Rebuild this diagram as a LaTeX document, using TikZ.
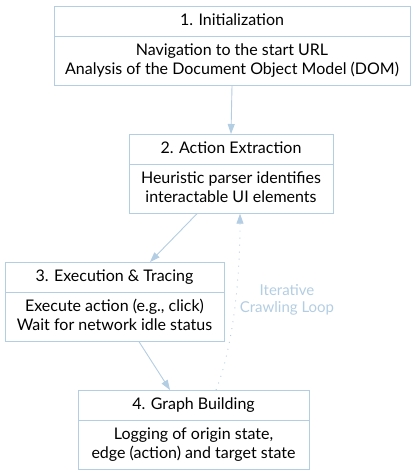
\documentclass[tikz,border=0pt]{standalone}
\usepackage{fontspec}
\setmainfont{Lato}
\usetikzlibrary{shapes.multipart,arrows.meta}
\definecolor{loopblue}{RGB}{179,205,227}

\begin{document}
\begin{tikzpicture}[x=1pt,y=-1pt,
    stage/.style={rectangle split,rectangle split parts=2,draw=loopblue,line width=0.9pt,
      align=center,inner xsep=6pt,inner ysep=5pt,anchor=north,
      font=\fontsize{16}{19}\selectfont},
    flow/.style={draw=loopblue,line width=0.9pt,-{Triangle[length=10pt,width=7pt]}}]
      \useasboundingbox (0,0) rectangle (415,473);

      \draw (232,6) node[stage,minimum width=356pt](init) {\strut 1. Initialization
        \nodepart{two}\strut Navigation to the start URL\\\strut Analysis of the Document Object Model (DOM)};
      \draw (231,134) node[stage,minimum width=204pt](extract) {\strut 2. Action Extraction
        \nodepart{two}\strut Heuristic parser identifies\\\strut interactable UI elements};
      \draw (114.5,262) node[stage,minimum width=219pt](exec) {\strut 3. Execution \& Tracing
        \nodepart{two}\strut Execute action (e.g., click)\\\strut Wait for network idle status};
      \draw (193.5,390) node[stage,minimum width=231pt](graph) {\strut 4. Graph Building
        \nodepart{two}\strut Logging of origin state,\\\strut edge (action) and target state};

      \draw (287,300) node[text=loopblue,align=center,font=\fontsize{15}{17}\selectfont](looplabel) {Iterative\\Crawling Loop};

      \draw[flow] (init.south) -- (extract.north);
      \draw[flow] ([xshift=-34pt]extract.south) -- ([xshift=35.5pt]exec.north);
      \draw[flow] ([xshift=24.5pt]exec.south) -- ([xshift=-23.5pt]graph.north);
      % loop back
      \draw[flow,dash pattern=on 1pt off 6pt] ([xshift=22.5pt]graph.north) .. controls +(16,-40) and +(0,70) .. ([xshift=9pt]extract.south);
    \end{tikzpicture}
\end{document}
